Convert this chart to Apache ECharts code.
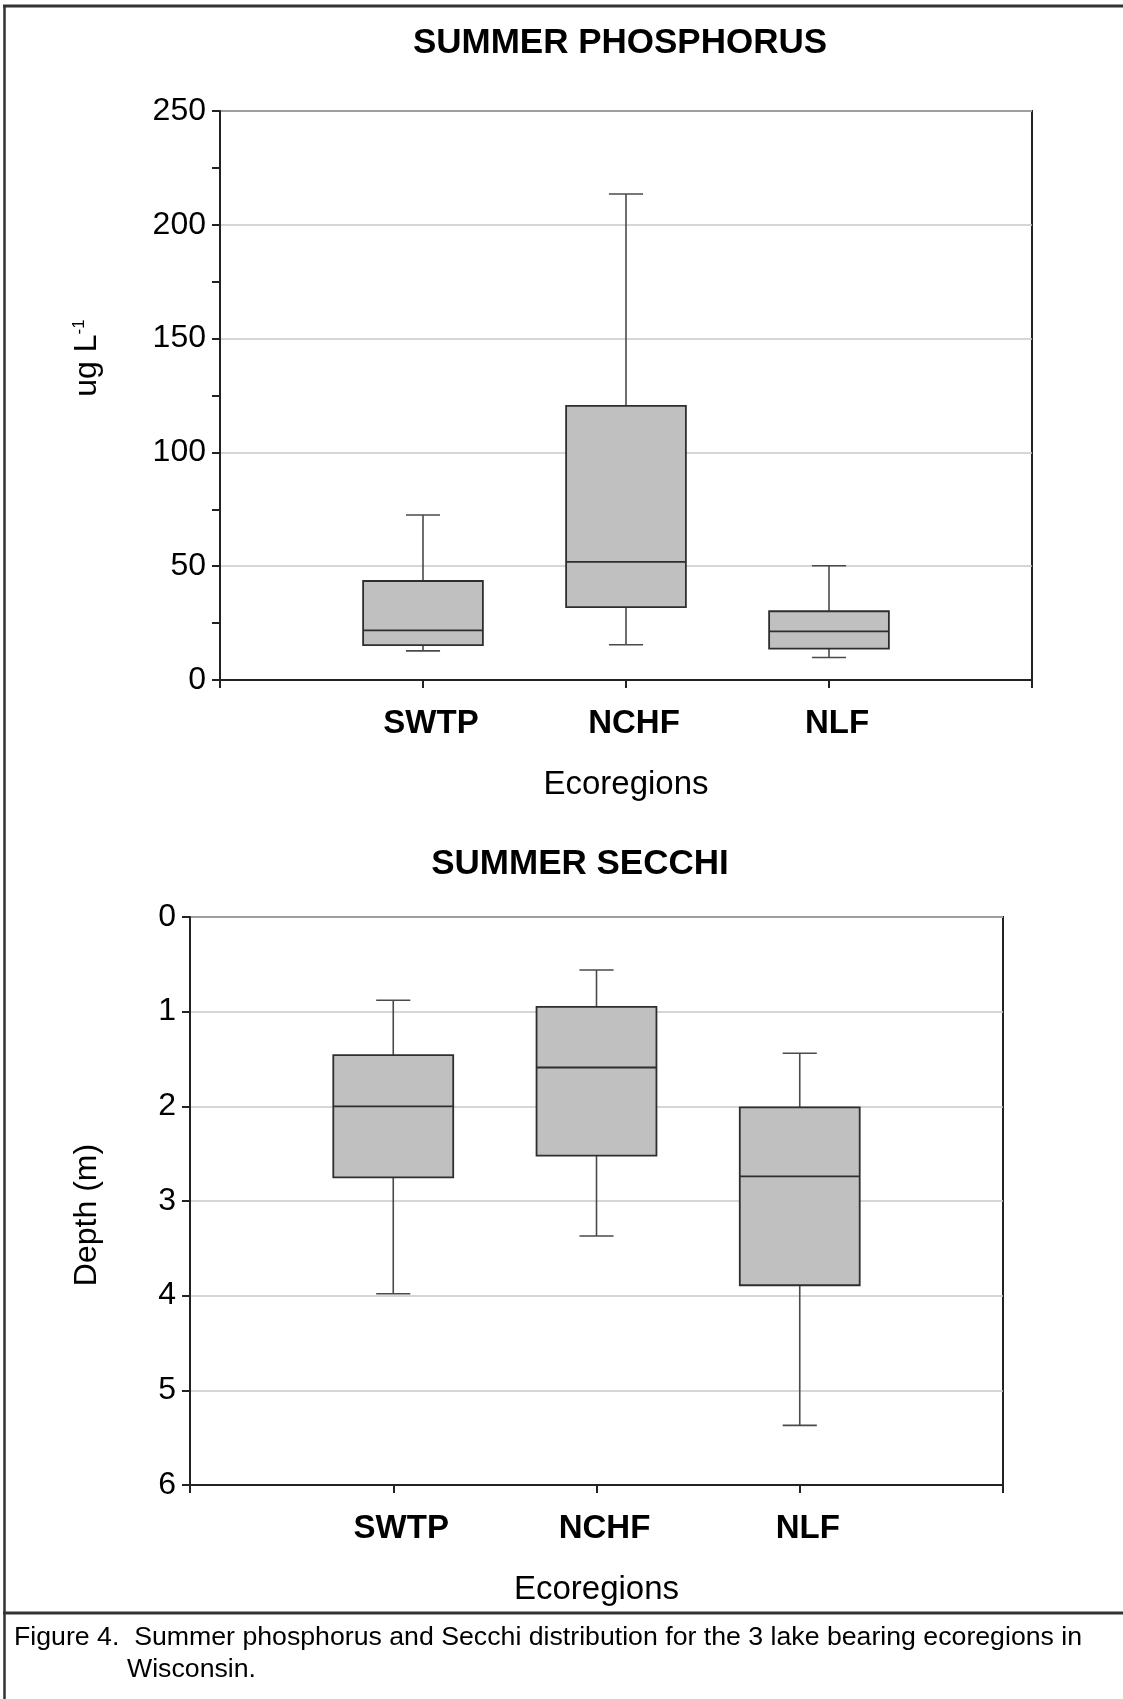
<!DOCTYPE html>
<html>
<head>
<meta charset="utf-8">
<script src="https://cdn.jsdelivr.net/npm/echarts@6/dist/echarts.min.js"></script>
<style>
html,body{margin:0;padding:0;background:#fff;}
#chart{width:1123px;height:1699px;}
</style>
</head>
<body>
<div id="chart"></div>
<script>
// ---- data ----
const categories = ['', 'SWTP', 'NCHF', 'NLF', ''];
const regions = ['SWTP', 'NCHF', 'NLF'];

// Summer phosphorus (ug/L)
const phosMin    = [12.8, 15.5, 9.9];
const phosQ1     = [15.3, 32.0, 13.8];
const phosMedian = [21.8, 51.9, 21.4];
const phosQ3     = [43.5, 120.4, 30.2];
const phosMax    = [72.5, 213.5, 50.2];

// Summer Secchi depth (m)
const secchiMin    = [0.88, 0.56, 1.44];
const secchiQ1     = [1.46, 0.95, 2.01];
const secchiMedian = [2.00, 1.59, 2.74];
const secchiQ3     = [2.75, 2.52, 3.89];
const secchiMax    = [3.98, 3.37, 5.37];

const phosAxis = {min: 0, max: 250, interval: 50};
const secchiAxis = {min: 0, max: 6, interval: 1};

const titles = ['SUMMER PHOSPHORUS', 'SUMMER SECCHI'];
const caption1 = 'Figure 4.  Summer phosphorus and Secchi distribution for the 3 lake bearing ecoregions in';
const caption2 = 'Wisconsin.';

// ---- build ----
const FONT = '"Liberation Sans", Arial, Helvetica, sans-serif';

function rows(mins, q1s, meds, q3s, maxs) {
  return regions.map((r, i) => [categories.indexOf(r), mins[i], q1s[i], meds[i], q3s[i], maxs[i]]);
}

function renderBox(params, api) {
  const x = api.value(0);
  const pMin = api.coord([x, api.value(1)]);
  const pQ1 = api.coord([x, api.value(2)]);
  const pMed = api.coord([x, api.value(3)]);
  const pQ3 = api.coord([x, api.value(4)]);
  const pMax = api.coord([x, api.value(5)]);
  const band = api.size([1, 0])[0];
  const bw = band * 0.59;
  const cap = band * 0.168;
  const cx = pMed[0];
  const yTop = Math.min(pQ1[1], pQ3[1]);
  const yBot = Math.max(pQ1[1], pQ3[1]);
  const wStyle = {stroke: '#4a4a4a', lineWidth: 1.6};
  const bStyle = {stroke: '#2e2e2e', lineWidth: 1.8};
  return {
    type: 'group',
    children: [
      {type: 'line', shape: {x1: cx, y1: pMin[1], x2: cx, y2: pQ1[1]}, style: wStyle},
      {type: 'line', shape: {x1: cx, y1: pQ3[1], x2: cx, y2: pMax[1]}, style: wStyle},
      {type: 'line', shape: {x1: cx - cap / 2, y1: pMin[1], x2: cx + cap / 2, y2: pMin[1]}, style: wStyle},
      {type: 'line', shape: {x1: cx - cap / 2, y1: pMax[1], x2: cx + cap / 2, y2: pMax[1]}, style: wStyle},
      {type: 'rect', shape: {x: cx - bw / 2, y: yTop, width: bw, height: yBot - yTop},
        style: {fill: '#c0c0c0', stroke: '#2e2e2e', lineWidth: 1.8}},
      {type: 'line', shape: {x1: cx - bw / 2, y1: pMed[1], x2: cx + bw / 2, y2: pMed[1]}, style: bStyle}
    ]
  };
}

function xAxisCfg(gridIndex) {
  return {
    gridIndex: gridIndex,
    type: 'category',
    position: 'bottom',
    data: categories,
    boundaryGap: false,
    axisLine: {show: true, onZero: false, lineStyle: {color: '#222', width: 2}},
    axisTick: {show: true, interval: 0, length: 8, lineStyle: {color: '#222', width: 2}},
    axisLabel: {interval: 0, fontFamily: FONT, fontSize: 33, fontWeight: 'bold', color: '#000', margin: 27, padding: [0, 0, 0, 16]},
    splitLine: {show: false},
    name: 'Ecoregions',
    nameLocation: 'middle',
    nameGap: 88,
    nameTextStyle: {fontFamily: FONT, fontSize: 33, color: '#000'}
  };
}

function yAxisCfg(gridIndex, ax, inverse, minor) {
  return {
    gridIndex: gridIndex,
    type: 'value',
    min: ax.min, max: ax.max, interval: ax.interval,
    inverse: inverse,
    axisLine: {show: true, onZero: false, lineStyle: {color: '#222', width: 2}},
    axisTick: {show: true, length: 8, lineStyle: {color: '#222', width: 2}},
    minorTick: {show: minor, splitNumber: 2, length: 8, lineStyle: {color: '#222', width: 2}},
    minorSplitLine: {show: false},
    axisLabel: {fontFamily: FONT, fontSize: 32, color: '#000', margin: 14},
    splitLine: {show: true, lineStyle: {color: '#c8c8c8', width: 1.6}}
  };
}

const chart = echarts.init(document.getElementById('chart'), null, {renderer: 'canvas'});

const option = {
  backgroundColor: '#ffffff',
  animation: false,
  grid: [
    {left: 220, top: 111, width: 812, height: 569, show: true, borderColor: '#222', borderWidth: 2, backgroundColor: 'transparent'},
    {left: 190, top: 917, width: 813, height: 568, show: true, borderColor: '#222', borderWidth: 2, backgroundColor: 'transparent'}
  ],
  xAxis: [xAxisCfg(0), xAxisCfg(1)],
  yAxis: [yAxisCfg(0, phosAxis, false, true), yAxisCfg(1, secchiAxis, true, false)],
  series: [
    {type: 'custom', name: 'Summer phosphorus', xAxisIndex: 0, yAxisIndex: 0,
      data: rows(phosMin, phosQ1, phosMedian, phosQ3, phosMax),
      encode: {x: 0, y: [1, 2, 3, 4, 5]}, renderItem: renderBox, z: 5},
    {type: 'custom', name: 'Summer Secchi', xAxisIndex: 1, yAxisIndex: 1,
      data: rows(secchiMin, secchiQ1, secchiMedian, secchiQ3, secchiMax),
      encode: {x: 0, y: [1, 2, 3, 4, 5]}, renderItem: renderBox, z: 5}
  ],
  graphic: [
    {type: 'text', x: 620, y: 43, style: {text: titles[0], font: 'bold 35px ' + FONT, fill: '#000', align: 'center', verticalAlign: 'middle'}},
    {type: 'text', x: 580, y: 864, style: {text: titles[1], font: 'bold 35px ' + FONT, fill: '#000', align: 'center', verticalAlign: 'middle'}},
    {type: 'text', x: 87, y: 358, rotation: Math.PI / 2,
      style: {text: 'ug L{sup|-1}', fontFamily: FONT, fontSize: 32, fill: '#000', align: 'center', verticalAlign: 'middle',
        rich: {sup: {fontFamily: FONT, fontSize: 17, verticalAlign: 'top', padding: [0, 0, 14, 0]}}}},
    {type: 'text', x: 87, y: 1215, rotation: Math.PI / 2,
      style: {text: 'Depth (m)', fontFamily: FONT, fontSize: 32, fill: '#000', align: 'center', verticalAlign: 'middle'}},
    {type: 'text', x: 14, y: 1638, style: {text: caption1, fontFamily: FONT, fontSize: 26.7, fill: '#000', align: 'left', verticalAlign: 'middle'}},
    {type: 'text', x: 127, y: 1670, style: {text: caption2, fontFamily: FONT, fontSize: 26.7, fill: '#000', align: 'left', verticalAlign: 'middle'}},
    {type: 'line', shape: {x1: 3, y1: 6, x2: 1123, y2: 6}, style: {stroke: '#333', lineWidth: 3}},
    {type: 'line', shape: {x1: 4.5, y1: 5, x2: 4.5, y2: 1699}, style: {stroke: '#333', lineWidth: 2.5}},
    {type: 'line', shape: {x1: 3, y1: 1613, x2: 1123, y2: 1613}, style: {stroke: '#333', lineWidth: 3}}
  ]
};

chart.setOption(option);
</script>
</body>
</html>
